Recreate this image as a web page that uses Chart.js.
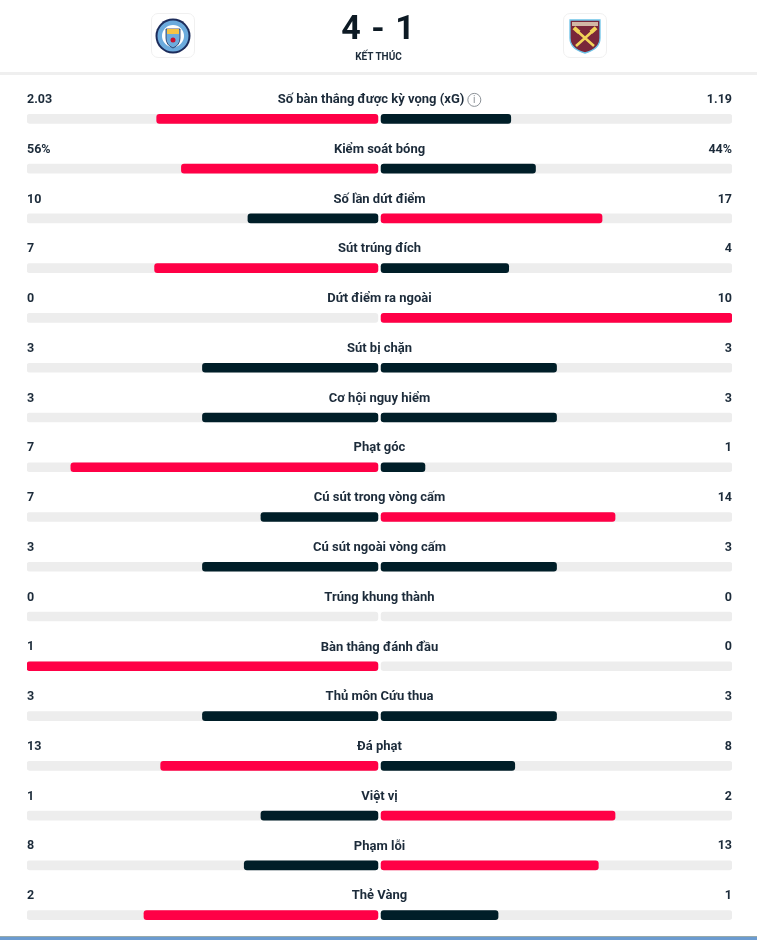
<!DOCTYPE html>
<html>
<head>
<meta charset="utf-8">
<script src="https://cdn.jsdelivr.net/npm/chart.js@4.4.1/dist/chart.umd.min.js"></script>
<style>
  html, body { margin: 0; padding: 0; background: #fff; }
  body { width: 757px; height: 940px; position: relative; overflow: hidden; font-family: Roboto, "Noto Sans", sans-serif; }
  #c { position: absolute; left: 0; top: 0; }
  .frame { position: absolute; top: 13px; width: 44px; height: 45px; border: 1px solid #f0f0f0; border-radius: 7px; box-sizing: border-box; background: #fff; }
  #score { position: absolute; left: 0; width: 757px; top: 7px; text-align: center; font-size: 34px; font-weight: bold; color: #0d1a24; letter-spacing: 1px; }
  #status { position: absolute; left: 0; width: 757px; top: 51px; text-align: center; font-size: 10px; font-weight: bold; color: #1c2b3a; }
  #divider { position: absolute; left: 0; top: 72px; width: 757px; height: 3px; background: #efefef; }
  #taskbar { position: absolute; left: 0; bottom: 0; width: 757px; height: 3px; background: #6b9bd0; border-top: 1px solid #9aa; }
</style>
</head>
<body>
<canvas id="c" width="757" height="940"></canvas>
<div class="frame" style="left:151px;">
  <svg width="42" height="43" viewBox="0 0 42 43">
    <circle cx="21" cy="22" r="17.5" fill="#1c2c5b"/>
    <circle cx="21" cy="22" r="15.5" fill="#6cabdd"/>
    <circle cx="21" cy="22" r="11" fill="#fff"/>
    <path d="M14 15 L28 15 L28 24 Q28 31 21 34 Q14 31 14 24 Z" fill="#6cabdd" stroke="#1c2c5b" stroke-width="0.8"/>
    <path d="M15 15 L27 15 L27 20 L15 20 Z" fill="#f6c343"/>
    <circle cx="21" cy="26" r="2.5" fill="#c8102e"/>
  </svg>
</div>
<div class="frame" style="left:563px;">
  <svg width="42" height="43" viewBox="0 0 42 43">
    <path d="M6 6 L36 6 L36 24 Q36 35 21 39 Q6 35 6 24 Z" fill="#7a263a" stroke="#6cc3e8" stroke-width="1.3"/>
    <rect x="8" y="8" width="26" height="4" fill="#e8dcc0" opacity="0.8"/>
    <path d="M12 16 L30 32 M30 16 L12 32" stroke="#f3d459" stroke-width="2.6"/>
    <rect x="9" y="14" width="7" height="4" fill="#f3d459" transform="rotate(42 12.5 16)"/>
    <rect x="26" y="14" width="7" height="4" fill="#f3d459" transform="rotate(-42 29.5 16)"/>
  </svg>
</div>
<div id="score">4 - 1</div>
<div id="status">KẾT THÚC</div>
<div id="divider"></div>
<div id="taskbar"></div>
<script>
const categories = [
  "Số bàn thắng được kỳ vọng (xG)",
  "Kiểm soát bóng",
  "Số lần dứt điểm",
  "Sút trúng đích",
  "Dứt điểm ra ngoài",
  "Sút bị chặn",
  "Cơ hội nguy hiểm",
  "Phạt góc",
  "Cú sút trong vòng cấm",
  "Cú sút ngoài vòng cấm",
  "Trúng khung thành",
  "Bàn thắng đánh đầu",
  "Thủ môn Cứu thua",
  "Đá phạt",
  "Việt vị",
  "Phạm lỗi",
  "Thẻ Vàng"
];
const homeValues = [2.03, 56, 10, 7, 0, 3, 3, 7, 7, 3, 0, 1, 3, 13, 1, 8, 2];
const awayValues = [1.19, 44, 17, 4, 10, 3, 3, 1, 14, 3, 0, 0, 3, 8, 2, 13, 1];
const homeLabels = ["2.03", "56%", "10", "7", "0", "3", "3", "7", "7", "3", "0", "1", "3", "13", "1", "8", "2"];
const awayLabels = ["1.19", "44%", "17", "4", "10", "3", "3", "1", "14", "3", "0", "0", "3", "8", "2", "13", "1"];

const RED = "#ff0046";
const DARK = "#001e28";
const TRACK = "#ededed";
const GAP = 0.0045;

const homeBars = homeValues.map((v, i) => {
  const t = v + awayValues[i];
  return (t > 0 && v > 0) ? [-(GAP + v / t), -GAP] : null;
});
const awayBars = awayValues.map((v, i) => {
  const t = v + homeValues[i];
  return (t > 0 && v > 0) ? [GAP, GAP + v / t] : null;
});
const homeColors = homeValues.map((v, i) => v > awayValues[i] ? RED : DARK);
const awayColors = awayValues.map((v, i) => v > homeValues[i] ? RED : DARK);

const common = { grouped: false, barThickness: 9, borderRadius: 3, borderSkipped: false };

const LABEL_FONT = "bold 13px Roboto, 'Noto Sans', sans-serif";
const VALUE_FONT = "bold 12.5px Roboto, 'Noto Sans', sans-serif";

const textPlugin = {
  id: "rowText",
  afterDatasetsDraw(chart) {
    const ctx = chart.ctx;
    const y = chart.scales.y, x = chart.scales.x;
    const area = chart.chartArea;
    ctx.save();
    ctx.fillStyle = "#1c2b3a";
    ctx.textBaseline = "middle";
    categories.forEach((name, i) => {
      const py = y.getPixelForValue(i) - 19;
      ctx.font = VALUE_FONT;
      ctx.textAlign = "left";
      ctx.fillText(homeLabels[i], area.left, py);
      ctx.textAlign = "right";
      ctx.fillText(awayLabels[i], area.right, py);
      const cx = x.getPixelForValue(0);
      ctx.font = LABEL_FONT;
      if (i === 0) {
        const w = ctx.measureText(name).width;
        const iconW = 17;
        const start = cx - (w + iconW) / 2;
        ctx.textAlign = "left";
        ctx.fillText(name, start, py);
        const icx = start + w + 10;
        ctx.beginPath();
        ctx.strokeStyle = "#8a9096";
        ctx.lineWidth = 1;
        ctx.arc(icx, py, 6.5, 0, Math.PI * 2);
        ctx.stroke();
        ctx.fillStyle = "#8a9096";
        ctx.font = "10px Roboto, sans-serif";
        ctx.textAlign = "center";
        ctx.fillText("i", icx, py + 0.5);
        ctx.fillStyle = "#1c2b3a";
      } else {
        ctx.textAlign = "center";
        ctx.fillText(name, cx, py);
      }
    });
    ctx.restore();
  }
};

new Chart(document.getElementById("c"), {
  type: "bar",
  data: {
    labels: categories,
    datasets: [
      Object.assign({ data: homeBars, backgroundColor: homeColors }, common),
      Object.assign({ data: awayBars, backgroundColor: awayColors }, common),
      Object.assign({ data: categories.map(() => [-(1 + GAP), -GAP]), backgroundColor: TRACK }, common),
      Object.assign({ data: categories.map(() => [GAP, 1 + GAP]), backgroundColor: TRACK }, common)
    ]
  },
  options: {
    indexAxis: "y",
    responsive: false,
    animation: false,
    devicePixelRatio: 1,
    layout: { padding: { top: 94, bottom: 0, left: 27, right: 25 } },
    plugins: { legend: { display: false }, tooltip: { enabled: false } },
    scales: {
      x: { type: "linear", min: -(1 + GAP), max: 1 + GAP, display: false },
      y: { type: "category", display: false, offset: true, grid: { display: false } }
    }
  },
  plugins: [textPlugin]
});
</script>
</body>
</html>
